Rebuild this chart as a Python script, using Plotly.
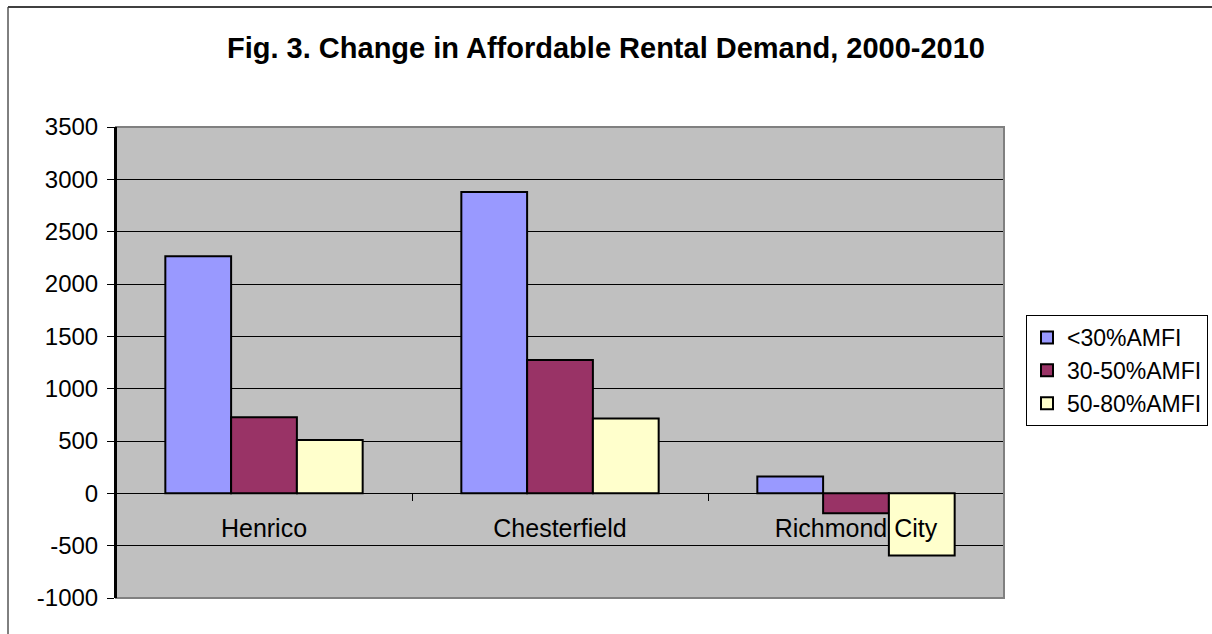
import plotly.graph_objects as go

categories = ["Henrico", "Chesterfield", "Richmond City"]
series_names = ["<30%AMFI", "30-50%AMFI", "50-80%AMFI"]
lt30 = [2265, 2880, 160]
b30_50 = [728, 1275, -190]
b50_80 = [510, 715, -595]
colors = ["#9999FF", "#993366", "#FFFFCC"]
y_ticks = [-1000, -500, 0, 500, 1000, 1500, 2000, 2500, 3000, 3500]
y_tick_labels = ["-1000", "-500", "0", "500", "1000", "1500", "2000", "2500", "3000", "3500"]

VIEW_W = 1212
W, H = 1240, 634
L, R, T, B = 116, 1004, 127, 598
pw, ph = R - L, B - T

def px_x(x):
    return (x - L) / pw

def px_y(y):
    return (B - y) / ph

FONT = "Liberation Sans, Arial, sans-serif"

fig = go.Figure()
for name, vals, col in zip(series_names, [lt30, b30_50, b50_80], colors):
    fig.add_trace(go.Bar(
        x=categories, y=vals, name=name,
        marker=dict(color=col, line=dict(color="black", width=2)),
    ))

fig.update_layout(
    width=W, height=H,
    margin=dict(l=L, r=W - R, t=T, b=H - B, pad=0),
    paper_bgcolor="white",
    plot_bgcolor="#C0C0C0",
    barmode="group",
    bargap=1/3,
    bargroupgap=0,
    font=dict(family=FONT, size=24, color="black"),
    title=dict(
        text="<b>Fig. 3. Change in Affordable Rental Demand, 2000-2010</b>",
        x=VIEW_W / 2 / W, xref="container", xanchor="center",
        y=1 - 48 / H, yref="container", yanchor="middle",
        font=dict(family=FONT, size=29, color="black"),
    ),
    showlegend=True,
    legend=dict(
        x=px_x(1026), y=px_y(315), xanchor="left", yanchor="top",
        bgcolor="white", bordercolor="black", borderwidth=1,
        font=dict(family=FONT, size=23, color="black"),
        traceorder="normal", itemwidth=30,
    ),
)

fig.update_yaxes(
    range=[-1000, 3500], tickvals=y_ticks, ticktext=y_tick_labels,
    showgrid=True, gridcolor="black", gridwidth=1,
    zeroline=False,
    showline=True, linecolor="black", linewidth=2,
    ticks="outside", ticklen=7, tickcolor="black", tickwidth=1,
    tickfont=dict(family=FONT, size=24, color="black"),
    ticklabelstandoff=4,
)
fig.update_xaxes(
    anchor="free", position=px_y(493.3),
    showline=True, linecolor="black", linewidth=1,
    ticks="outside", ticklen=7, tickcolor="black", tickwidth=1,
    tickson="boundaries",
    showgrid=False, zeroline=False,
    tickfont=dict(family=FONT, size=25, color="black"),
    ticklabelstandoff=13,
)

# plot-area border (gray) and outer chart border
fig.add_shape(type="rect", xref="paper", yref="paper", x0=0, x1=1, y0=0, y1=1,
              line=dict(color="#808080", width=2), layer="above")
fig.add_shape(type="line", xref="paper", yref="paper",
              x0=0, x1=0, y0=0, y1=1, line=dict(color="black", width=2), layer="above")
fig.add_shape(type="line", xref="paper", yref="paper",
              x0=px_x(8), x1=px_x(8), y0=px_y(H), y1=px_y(7),
              line=dict(color="black", width=1))
fig.add_shape(type="line", xref="paper", yref="paper",
              x0=px_x(8), x1=px_x(W), y0=px_y(7), y1=px_y(7),
              line=dict(color="#404040", width=2))

fig.write_html(
    "out.html",
    config={"displayModeBar": False},
    post_script="document.body.style.margin='0';document.body.style.overflow='hidden';",
)
